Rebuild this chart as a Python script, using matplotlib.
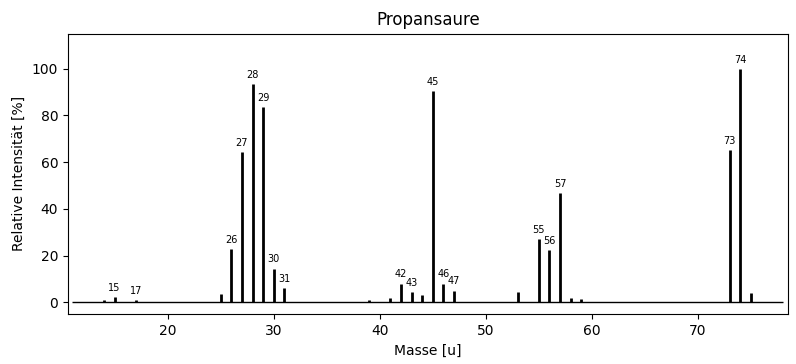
import matplotlib
matplotlib.use("Agg")
import matplotlib.pyplot as plt

masses = [14, 15, 17, 25, 26, 27, 28, 29, 30, 31, 39, 41, 42, 43, 44, 45, 46, 47,
          53, 55, 56, 57, 58, 59, 73, 74, 75]
intensities = [1.2, 2.2, 0.9, 3.4, 23.0, 64.4, 93.6, 83.7, 14.5, 6.3, 0.9, 2.1, 8.1, 4.3,
               3.1, 90.4, 8.1, 5.1, 4.3, 27.0, 22.3, 46.8, 1.8, 1.3, 65.2, 100.0, 3.9]
labeled = [15, 17, 26, 27, 28, 29, 30, 31, 42, 43, 45, 46, 47, 55, 56, 57, 73, 74]

fig = plt.figure(figsize=(7.96, 3.64), dpi=100)
ax = fig.add_axes([0.0854, 0.137, 0.9046, 0.7705])
ax.vlines(masses, 0, intensities, colors="black", linewidth=2)
ax.hlines(0, 11, 78, colors="black", linewidth=1)
for m, v in zip(masses, intensities):
    if m in labeled:
        ax.annotate(str(m), (m, v), xytext=(0, 3), textcoords="offset points",
                    ha="center", va="bottom", fontsize=7)
ax.set_xlim(10.6, 78.5)
ax.set_ylim(-5, 115)
ax.set_title("Propansaure")
ax.set_xlabel("Masse [u]")
ax.set_ylabel("Relative Intensität [%]")
fig.savefig("out.png", dpi=100)
